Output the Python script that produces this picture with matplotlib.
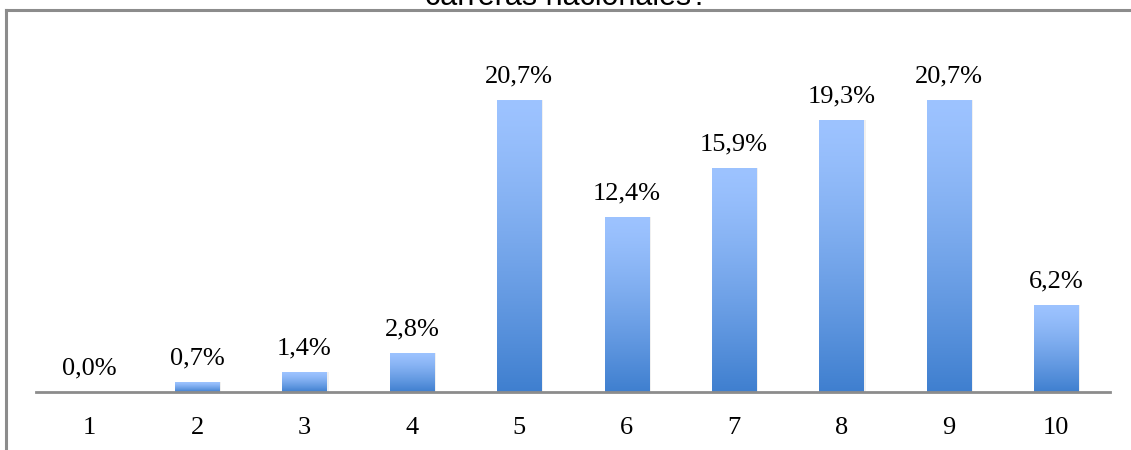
import numpy as np
import matplotlib.pyplot as plt
from matplotlib.lines import Line2D
from matplotlib.patches import Rectangle

W, H = 1131, 450

categories = ['1', '2', '3', '4', '5', '6', '7', '8', '9', '10']
values = [0.0, 0.7, 1.4, 2.8, 20.7, 12.4, 15.9, 19.3, 20.7, 6.2]
labels = ['0,0%', '0,7%', '1,4%', '2,8%', '20,7%', '12,4%', '15,9%', '19,3%', '20,7%', '6,2%']
title = 'carreras nacionales?'

TOP = np.array([0x9d, 0xc3, 0xff]) / 255
BOTTOM = np.array([0x3f, 0x7f, 0xcf]) / 255
SERIF = ['Liberation Serif', 'DejaVu Serif']


def main():
    fig = plt.figure(figsize=(W / 100, H / 100), dpi=100)
    ax = fig.add_axes([36 / W, 1 - 392 / H, (1110 - 36) / W, (392 - 30) / H])

    x = np.arange(1, len(values) + 1)
    width = 0.41
    ymax = (392 - 30) / 14.1
    ax.set_xlim(0.5, 10.5)
    ax.set_ylim(0, ymax)

    grad = np.linspace(0, 1, 256) ** 1.3
    grad = grad[:, None, None]
    img = TOP * (1 - grad) + BOTTOM * grad

    for xi, v, lab in zip(x, values, labels):
        if v > 0:
            # soft shadow
            ax.add_patch(Rectangle((xi - width / 2 + 0.02, 0), width, v,
                                   facecolor='#000000', alpha=0.06,
                                   edgecolor='none', zorder=1))
            rect = Rectangle((xi - width / 2, 0), width, v,
                             facecolor='none', edgecolor='none', zorder=2)
            ax.add_patch(rect)
            im = ax.imshow(img, extent=(xi - width / 2, xi + width / 2, 0, v),
                           aspect='auto', origin='upper', zorder=2,
                           interpolation='bilinear')
            im.set_clip_path(rect)
        ax.annotate(lab, (xi, v), xytext=(0, 9), textcoords='offset points',
                    ha='center', va='bottom', fontsize=19, family=SERIF,
                    color='black')

    ax.set_xticks(x)
    ax.set_xticklabels(categories, family=SERIF, fontsize=19)
    ax.tick_params(axis='x', length=0, pad=18)
    ax.set_yticks([])
    for side in ('top', 'right', 'left'):
        ax.spines[side].set_visible(False)
    ax.spines['bottom'].set_color('#8c8c8c')
    ax.spines['bottom'].set_linewidth(2)
    ax.spines['bottom'].set_zorder(3)

    # outer frame of the chart area
    fx, fy = 6 / W, 1 - 10 / H
    fig.add_artist(Line2D([fx, fx], [0, fy], color='#8c8c8c', lw=2.2))
    fig.add_artist(Line2D([fx, 1], [fy, fy], color='#8c8c8c', lw=2.2))

    fig.text(567 / W, 1 - 5 / H, title, ha='center', va='baseline',
             fontsize=22, family=['Liberation Sans', 'DejaVu Sans'])

    fig.savefig('out.png', dpi=100)


if __name__ == "__main__":
    main()
